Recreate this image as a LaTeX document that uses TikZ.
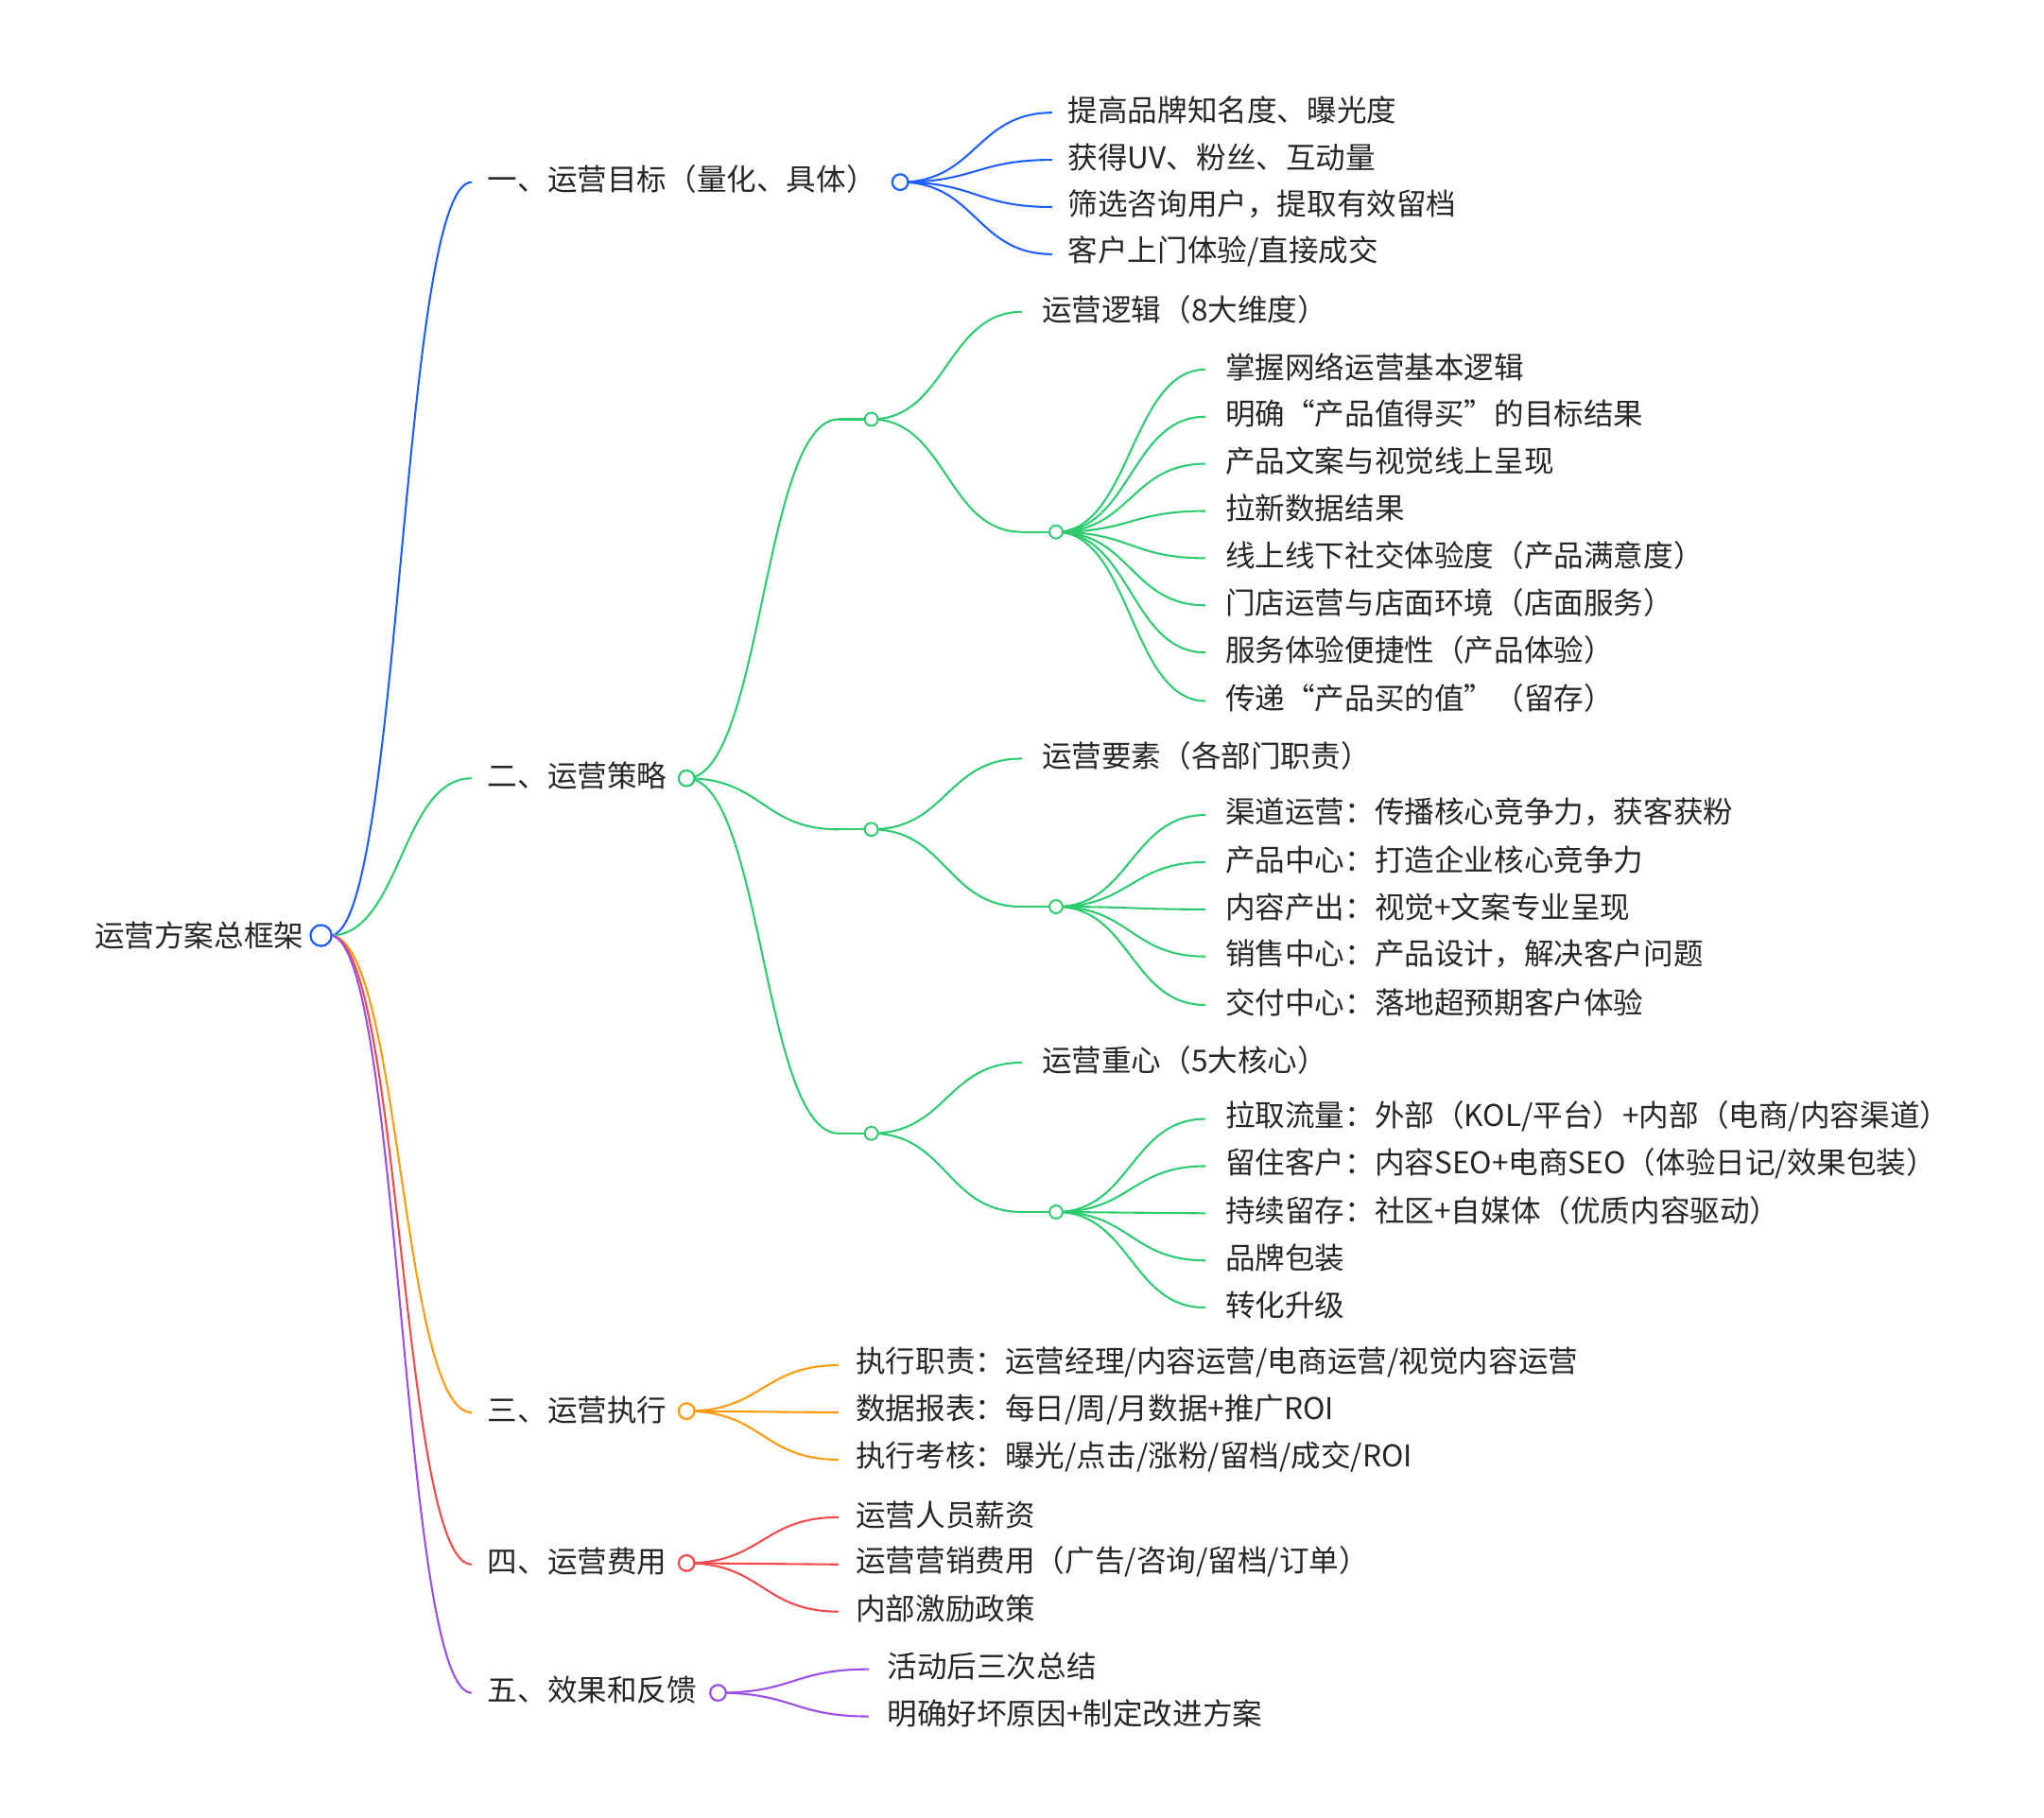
\documentclass[tikz,border=0pt]{standalone}
\usepackage{fontspec}
\setmainfont{Noto Sans CJK SC}
\usetikzlibrary{calc}
\definecolor{cb}{HTML}{1E5EFF}
\definecolor{cg}{HTML}{2DCB70}
\definecolor{co}{HTML}{FF9A0A}
\definecolor{cr}{HTML}{F5484A}
\definecolor{cp}{HTML}{9B4DE8}
\begin{document}
\begin{tikzpicture}[x=1pt,y=-1pt,
  lbl/.style={anchor=west,inner sep=0pt,yshift=2pt,font=\fontsize{22.8}{24}\selectfont,text=black!85},
  dotc/.style={circle,draw=#1,fill=white,line width=1.6pt,minimum size=12pt,inner sep=0pt},
  dots/.style={circle,draw=#1,fill=white,line width=1.4pt,minimum size=10pt,inner sep=0pt},
  conn/.style={line width=1.5pt,to path={let \p1=(\tikztostart), \p2=(\tikztotarget) in .. controls ({(\x1+\x2)/2},\y1) and ({(\x1+\x2)/2},\y2) .. (\tikztotarget)}}]
\useasboundingbox (0,0) rectangle (1560,1387);
% root
\node[lbl,anchor=east] (root) at (232,716) {运营方案总框架};
% level 1
\foreach \n/\y/\t in {a/139/{一、运营目标（量化、具体）},b/594/{二、运营策略},c/1078/{三、运营执行},d/1194/{四、运营费用},e/1292/{五、效果和反馈}}
  {\coordinate (e\n) at (360,\y); \node[lbl] (t\n) at (372,\y) {\t};}
\draw[conn,cb] (252,714) to (ea);
\draw[conn,cg] (252,714) to (eb);
\draw[conn,co] (252,714) to (ec);
\draw[conn,cr] (252,714) to (ed);
\draw[conn,cp] (252,714) to (ee);
\node[dotc=cb,minimum size=16pt] (rc) at (245,714) {};
% branch 1
\foreach \i/\y/\t in {1/86/{提高品牌知名度、曝光度},2/122/{获得UV、粉丝、互动量},3/158/{筛选咨询用户，提取有效留档},4/194/{客户上门体验/直接成交}}
  {\coordinate (ea\i) at (803,\y); \node[lbl] (ta\i) at (815,\y) {\t}; \draw[conn,cb] (687,139) to (ea\i);}
\node[dotc=cb] (ca) at (687,139) {};
% branch 2
\foreach \k/\y in {1/320,2/633,3/865}
  {\coordinate (g\k) at (640,\y); \coordinate (s\k) at (665,\y);
   \draw[conn,cg] (524,594) to (g\k); \draw[cg,line width=1.5pt] (g\k) -- (s\k);}
\node[dotc=cg] (cbb) at (524,594) {};
% sub 1
\coordinate (h1) at (780,238); \node[lbl] (th1) at (795,238) {运营逻辑（8大维度）};
\coordinate (k1) at (780,406);
\draw[conn,cg] (s1) to (h1); \draw[conn,cg] (s1) to (k1); \draw[cg,line width=1.5pt] (k1)--(806,406);
\foreach \i/\y/\t in {1/282/{掌握网络运营基本逻辑},2/318/{明确“产品值得买”的目标结果},3/354/{产品文案与视觉线上呈现},4/390/{拉新数据结果},5/426/{线上线下社交体验度（产品满意度）},6/462/{门店运营与店面环境（店面服务）},7/498/{服务体验便捷性（产品体验）},8/535/{传递“产品买的值”（留存）}}
  {\coordinate (m\i) at (920,\y); \node[lbl] (tm\i) at (935,\y) {\t}; \draw[conn,cg] (806,406) to (m\i);}
\node[dots=cg] (q1) at (806,406) {};
% sub 2
\coordinate (h2) at (780,579); \node[lbl] (th2) at (795,579) {运营要素（各部门职责）};
\coordinate (k2) at (780,692);
\draw[conn,cg] (s2) to (h2); \draw[conn,cg] (s2) to (k2); \draw[cg,line width=1.5pt] (k2)--(806,692);
\foreach \i/\y/\t in {1/622/{渠道运营：传播核心竞争力，获客获粉},2/658/{产品中心：打造企业核心竞争力},3/694/{内容产出：视觉+文案专业呈现},4/730/{销售中心：产品设计，解决客户问题},5/767/{交付中心：落地超预期客户体验}}
  {\coordinate (n\i) at (920,\y); \node[lbl] (tn\i) at (935,\y) {\t}; \draw[conn,cg] (806,692) to (n\i);}
\node[dots=cg] (q2) at (806,692) {};
% sub 3
\coordinate (h3) at (780,811); \node[lbl] (th3) at (795,811) {运营重心（5大核心）};
\coordinate (k3) at (780,925);
\draw[conn,cg] (s3) to (h3); \draw[conn,cg] (s3) to (k3); \draw[cg,line width=1.5pt] (k3)--(806,925);
\foreach \i/\y/\t in {1/854/{拉取流量：外部（KOL/平台）+内部（电商/内容渠道）},2/890/{留住客户：内容SEO+电商SEO（体验日记/效果包装）},3/926/{持续留存：社区+自媒体（优质内容驱动）},4/962/{品牌包装},5/998/{转化升级}}
  {\coordinate (p\i) at (920,\y); \node[lbl] (tp\i) at (935,\y) {\t}; \draw[conn,cg] (806,925) to (p\i);}
\node[dots=cg] (q3) at (806,925) {};
\foreach \k/\y in {1/320,2/633,3/865} {\node[dots=cg] (ss\k) at (665,\y) {};}
% branch 3
\foreach \i/\y/\t in {1/1042/{执行职责：运营经理/内容运营/电商运营/视觉内容运营},2/1078/{数据报表：每日/周/月数据+推广ROI},3/1114/{执行考核：曝光/点击/涨粉/留档/成交/ROI}}
  {\coordinate (ec\i) at (640,\y); \node[lbl] (tc\i) at (653,\y) {\t}; \draw[conn,co] (524,1077) to (ec\i);}
\node[dotc=co] (cc) at (524,1077) {};
% branch 4
\foreach \i/\y/\t in {1/1158/{运营人员薪资},2/1194/{运营营销费用（广告/咨询/留档/订单）},3/1230/{内部激励政策}}
  {\coordinate (ed\i) at (640,\y); \node[lbl] (td\i) at (653,\y) {\t}; \draw[conn,cr] (524,1193) to (ed\i);}
\node[dotc=cr] (cd) at (524,1193) {};
% branch 5
\foreach \i/\y/\t in {1/1274/{活动后三次总结},2/1310/{明确好坏原因+制定改进方案}}
  {\coordinate (ee\i) at (663,\y); \node[lbl] (te\i) at (677,\y) {\t}; \draw[conn,cp] (548,1292) to (ee\i);}
\node[dotc=cp] (ce) at (548,1292) {};
\end{tikzpicture}
\end{document}
